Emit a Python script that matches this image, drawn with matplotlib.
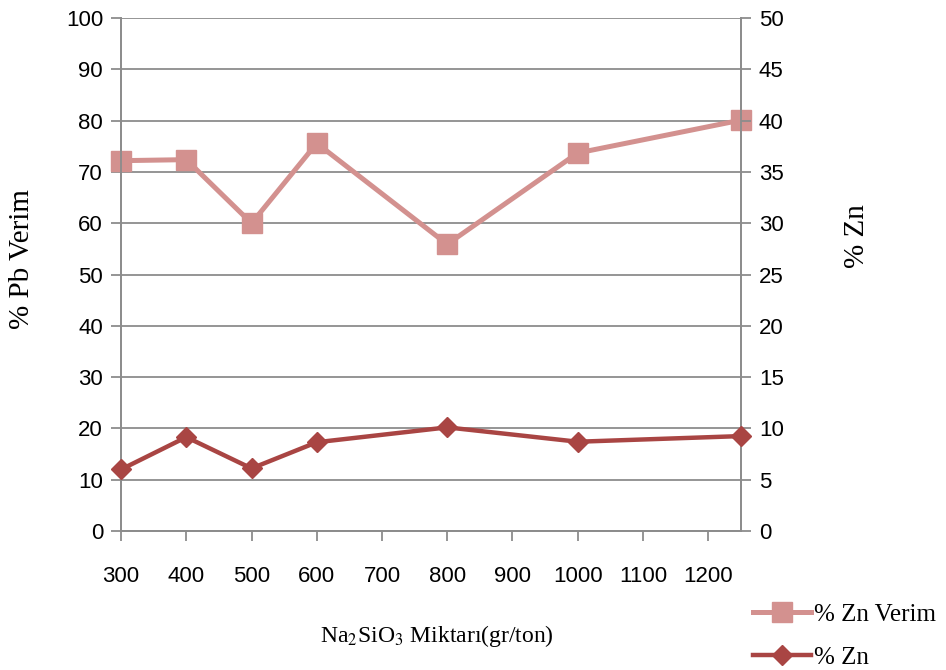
import matplotlib.pyplot as plt
import matplotlib

matplotlib.rcParams['mathtext.fontset'] = 'stix'

# data
na2sio3 = [300, 400, 500, 600, 800, 1000, 1250]
zn_verim = [72.2, 72.4, 60.0, 75.6, 55.9, 73.7, 80.1]   # left axis
zn = [6.0, 9.15, 6.1, 8.65, 10.1, 8.7, 9.25]           # right axis

pink = '#D3918F'
red = '#A94543'
grid_c = '#8C8C8C'
tick_font = 'Liberation Sans'
serif = 'Liberation Serif'

fig = plt.figure(figsize=(9.46, 6.70), dpi=100)
ax = fig.add_axes([0.128, 0.2075, 0.655, 0.7655])
ax2 = ax.twinx()

l1, = ax.plot(na2sio3, zn_verim, color=pink, lw=3.6, marker='s', ms=14,
              label='% Zn Verim', zorder=3, clip_on=False)
l2, = ax2.plot(na2sio3, zn, color=red, lw=3.2, marker='D', ms=10.5,
               label='% Zn', zorder=3, clip_on=False)

ax.set_xlim(300, 1250)
ax.set_ylim(0, 100)
ax2.set_ylim(0, 50)
ax.set_xticks(range(300, 1201, 100))
ax.set_yticks(range(0, 101, 10))
ax2.set_yticks(range(0, 51, 5))

ax.yaxis.grid(True, color=grid_c, lw=1.3)
ax.set_axisbelow(True)

for a in (ax, ax2):
    a.spines['top'].set_visible(False)
    for s in ('left', 'right', 'bottom'):
        a.spines[s].set_color(grid_c)
        a.spines[s].set_linewidth(1.3)
    a.tick_params(colors=grid_c, width=1.3, length=7, labelcolor='black',
                  labelsize=16)
    for lab in a.get_xticklabels() + a.get_yticklabels():
        lab.set_fontfamily(tick_font)

ax.tick_params(axis='x', pad=18)
ax.tick_params(axis='y', pad=6)
ax2.tick_params(axis='y', pad=6)

ax.set_ylabel('% Pb Verim', fontfamily=serif, fontsize=21)
ax.yaxis.set_label_coords(-0.139, 0.53)
ax2.set_ylabel('% Zn', fontfamily=serif, fontsize=21)
ax2.yaxis.set_label_coords(1.166, 0.575)
ax.set_xlabel('Na$_2$SiO$_3$ Miktarı(gr/ton)', fontfamily=serif, fontsize=17)
ax.xaxis.set_label_coords(0.51, -0.18)

fig.legend(handles=[l1, l2], loc='upper left', bbox_to_anchor=(0.785, 0.114),
           frameon=False, prop={'family': serif, 'size': 18}, handlelength=2.35,
           labelspacing=0.8, handletextpad=0.1, borderaxespad=0)

fig.savefig('out.png', dpi=100)
